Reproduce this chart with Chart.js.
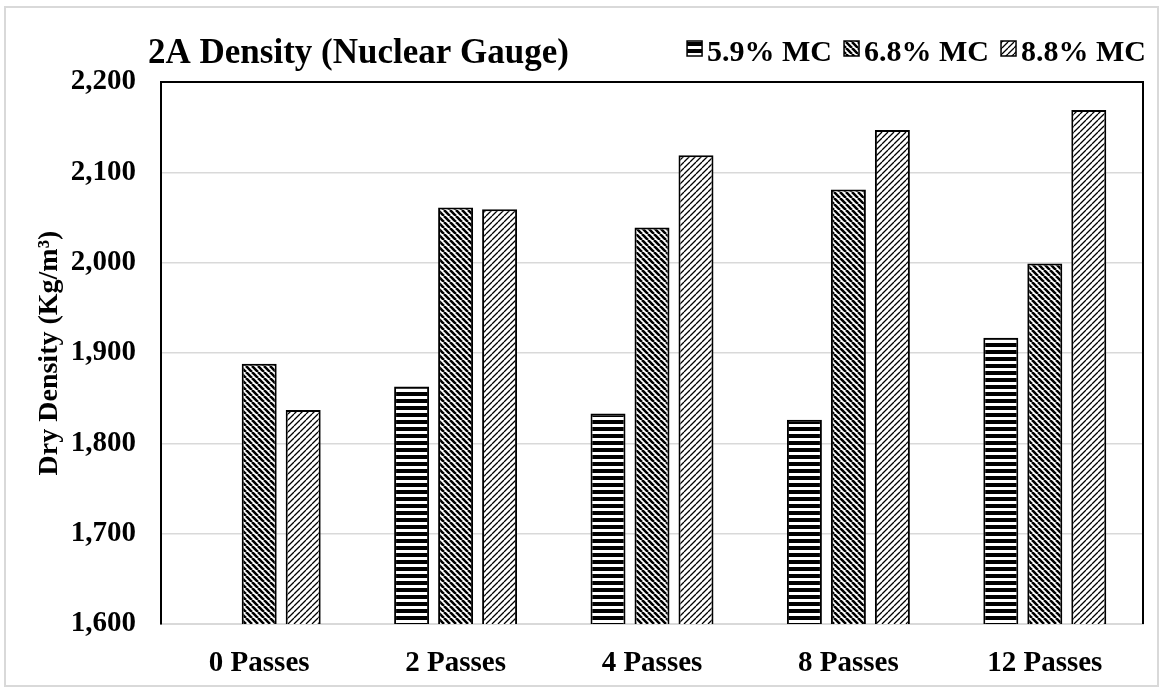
<!DOCTYPE html>
<html>
<head>
<meta charset="utf-8">
<title>2A Density (Nuclear Gauge)</title>
<script src="https://cdn.jsdelivr.net/npm/chart.js@4.4.0/dist/chart.umd.min.js"></script>
<style>
    html, body { margin: 0; padding: 0; background: #fff; }
    #wrap { position: relative; width: 1164px; height: 692px; }
</style>
</head>
<body>
<div id="wrap"><canvas id="chart" width="1164" height="692"></canvas></div>
<script>
// Data
const categories = ['0 Passes', '2 Passes', '4 Passes', '8 Passes', '12 Passes'];
const seriesNames = ['5.9% MC', '6.8% MC', '8.8% MC'];
const mc59 = [null, 1863, 1833, 1826, 1917];
const mc68 = [1888, 2061, 2039, 2081, 1999];
const mc88 = [1837, 2059, 2119, 2147, 2169];
const yMin = 1600;
const yMax = 2200;
const yStep = 100;

const FONT = '"Liberation Serif", "Times New Roman", serif';
const canvas = document.getElementById('chart');
const mainCtx = canvas.getContext('2d');

// Fill patterns
function makePattern(kind) {
    const c = document.createElement('canvas');
    const ctx = c.getContext('2d');
    if (kind === 'horiz') {
        c.width = 8; c.height = 7;
        ctx.fillStyle = '#fff';
        ctx.fillRect(0, 0, 8, 7);
        ctx.fillStyle = '#000';
        ctx.fillRect(0, 0, 8, 4);
    } else {
        const s = 6;
        c.width = s; c.height = s;
        ctx.fillStyle = '#fff';
        ctx.fillRect(0, 0, s, s);
        ctx.strokeStyle = '#000';
        ctx.lineWidth = kind === 'back' ? 2.6 : 1.3;
        ctx.beginPath();
        for (let k = -1; k <= 1; k++) {
            if (kind === 'back') {
                ctx.moveTo(k * s, 0); ctx.lineTo(k * s + s, s);
            } else {
                ctx.moveTo(k * s, s); ctx.lineTo(k * s + s, 0);
            }
        }
        ctx.stroke();
    }
    return mainCtx.createPattern(c, 'repeat');
}

const patterns = [makePattern('horiz'), makePattern('back'), makePattern('fwd')];

// Outer light border
const outerBorder = {
    id: 'outerBorder',
    beforeDraw(chart) {
        const ctx = chart.ctx;
        ctx.save();
        ctx.fillStyle = '#fff';
        ctx.fillRect(0, 0, chart.width, chart.height);
        ctx.strokeStyle = '#d9d9d9';
        ctx.lineWidth = 2;
        ctx.strokeRect(5, 7, 1153, 679);
        ctx.restore();
    }
};

// Black frame on left, top, right of plot area
const plotFrame = {
    id: 'plotFrame',
    afterDraw(chart) {
        const { left, top, right, bottom } = chart.chartArea;
        const ctx = chart.ctx;
        ctx.save();
        ctx.strokeStyle = '#000';
        ctx.lineWidth = 2;
        ctx.beginPath();
        ctx.moveTo(left, bottom);
        ctx.lineTo(left, top);
        ctx.lineTo(right, top);
        ctx.lineTo(right, bottom);
        ctx.stroke();
        ctx.restore();
    }
};

// Title and legend on one line
const headerPlugin = {
    id: 'header',
    afterDraw(chart) {
        const ctx = chart.ctx;
        ctx.save();
        ctx.fillStyle = '#000';
        ctx.textBaseline = 'alphabetic';
        ctx.textAlign = 'left';
        ctx.font = 'bold 35px ' + FONT;
        ctx.fillText('2A Density (Nuclear Gauge)', 148, 63);

        ctx.font = 'bold 30px ' + FONT;
        const box = 15, gap = 5, itemGap = 12;
        const widths = chart.data.datasets.map(d => ctx.measureText(d.label).width);
        let total = 0;
        widths.forEach((w, i) => { total += box + gap + w + (i > 0 ? itemGap : 0); });
        let x = 1146 - total;
        chart.data.datasets.forEach((d, i) => {
            ctx.fillStyle = d.backgroundColor;
            ctx.fillRect(x, 41, box, box);
            ctx.strokeStyle = '#000';
            ctx.lineWidth = 1.5;
            ctx.strokeRect(x, 41, box, box);
            ctx.fillStyle = '#000';
            ctx.fillText(d.label, x + box + gap, 61);
            x += box + gap + widths[i] + itemGap;
        });
        ctx.restore();
    }
};

const seriesData = [mc59, mc68, mc88];

new Chart(canvas, {
    type: 'bar',
    data: {
        labels: categories,
        datasets: seriesNames.map((name, i) => ({
            label: name,
            data: seriesData[i],
            backgroundColor: patterns[i],
            borderColor: '#000',
            borderWidth: 2,
            categoryPercentage: 0.672,
            barPercentage: 0.795
        }))
    },
    options: {
        responsive: false,
        devicePixelRatio: 1,
        animation: false,
        layout: {
            padding: { left: 33, top: 82, right: 21, bottom: 0 }
        },
        plugins: {
            legend: { display: false },
            title: { display: false },
            tooltip: { enabled: false }
        },
        scales: {
            x: {
                grid: { display: false },
                border: { display: true, color: '#d9d9d9', width: 2 },
                ticks: {
                    color: '#000',
                    font: { family: FONT, size: 29, weight: 'bold' },
                    padding: 14,
                    maxRotation: 0
                },
                afterFit(scale) { scale.height = 68; }
            },
            y: {
                min: yMin,
                max: yMax,
                grid: { color: '#d9d9d9', lineWidth: 1.5, drawTicks: false },
                border: { display: true, color: '#000', width: 2 },
                ticks: {
                    stepSize: yStep,
                    color: '#000',
                    padding: 25,
                    font: { family: FONT, size: 29, weight: 'bold' },
                    callback: v => v.toLocaleString('en-US')
                },
                title: {
                    display: true,
                    text: 'Dry Density (Kg/m³)',
                    color: '#000',
                    padding: 0,
                    font: { family: FONT, size: 28, weight: 'bold' }
                },
                afterFit(scale) { scale.width = 128; }
            }
        }
    },
    plugins: [outerBorder, plotFrame, headerPlugin]
});
</script>
</body>
</html>
